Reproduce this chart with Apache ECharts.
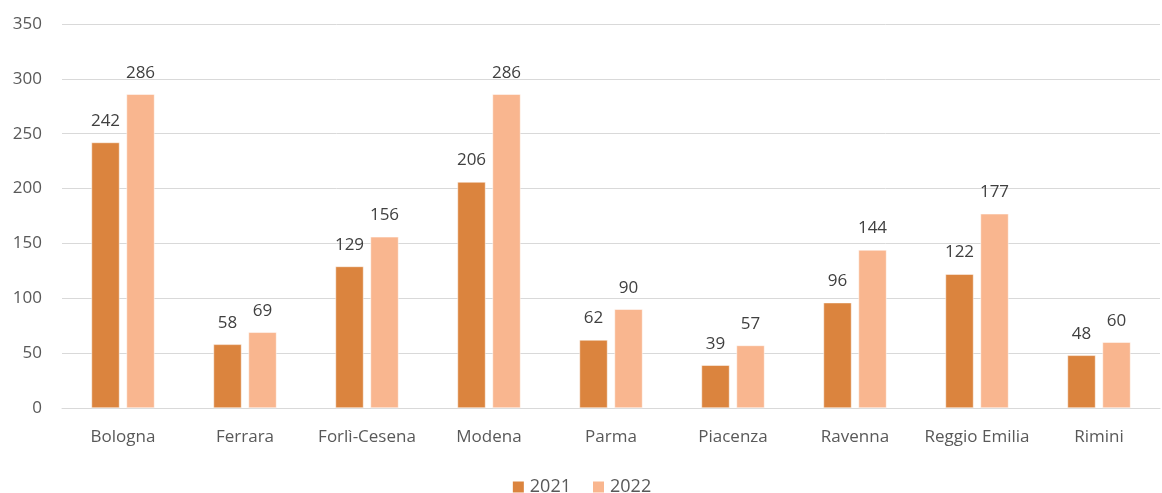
<!DOCTYPE html>
<html>
<head>
<meta charset="utf-8">
<script src="https://cdn.jsdelivr.net/npm/echarts@6/dist/echarts.min.js"></script>
<style>
  html, body { margin: 0; padding: 0; background: #fff; }
  #chart { width: 1162px; height: 493px; }
</style>
</head>
<body>
<div id="chart"></div>
<script>
const provinces = ['Bologna', 'Ferrara', 'Forlì-Cesena', 'Modena', 'Parma', 'Piacenza', 'Ravenna', 'Reggio Emilia', 'Rimini'];
const values2021 = [242, 58, 129, 206, 62, 39, 96, 122, 48];
const values2022 = [286, 69, 156, 286, 90, 57, 144, 177, 60];

const colors = {
    y2021: '#DB843E',
    y2022: '#F9B68F',
    grid: '#D9D9D9',
    axisText: '#595959',
    labelText: '#404040'
};
const font = '"Open Sans", "Liberation Sans", sans-serif';

const chart = echarts.init(document.getElementById('chart'));

function barSeries(name, data, color) {
    return {
        name: name,
        type: 'bar',
        data: data,
        barWidth: 28,
        barGap: '25%',
        itemStyle: { color: color, borderColor: '#fff', borderWidth: 0.5 },
        label: {
            show: true,
            position: 'top',
            distance: 13,
            color: colors.labelText,
            fontSize: 17,
            fontFamily: font
        }
    };
}

chart.setOption({
    animation: false,
    backgroundColor: '#fff',
    grid: { left: 62, right: 2, top: 24, bottom: 85 },
    legend: {
        top: 478,
        left: 'center',
        padding: 0,
        itemWidth: 13,
        itemHeight: 13,
        itemGap: 20,
        icon: 'rect',
        textStyle: { color: colors.axisText, fontSize: 18, lineHeight: 18, fontFamily: font }
    },
    xAxis: {
        type: 'category',
        data: provinces,
        axisTick: { show: false },
        axisLine: { lineStyle: { color: colors.grid, width: 1 } },
        axisLabel: { color: colors.axisText, fontSize: 17, fontFamily: font, margin: 21, interval: 0 }
    },
    yAxis: {
        type: 'value',
        min: 0,
        max: 350,
        interval: 50,
        axisLine: { show: false },
        axisTick: { show: false },
        axisLabel: { color: colors.axisText, fontSize: 17, fontFamily: font, margin: 20 },
        splitLine: { lineStyle: { color: colors.grid, width: 1 } }
    },
    series: [
        barSeries('2021', values2021, colors.y2021),
        barSeries('2022', values2022, colors.y2022)
    ]
});
</script>
</body>
</html>
